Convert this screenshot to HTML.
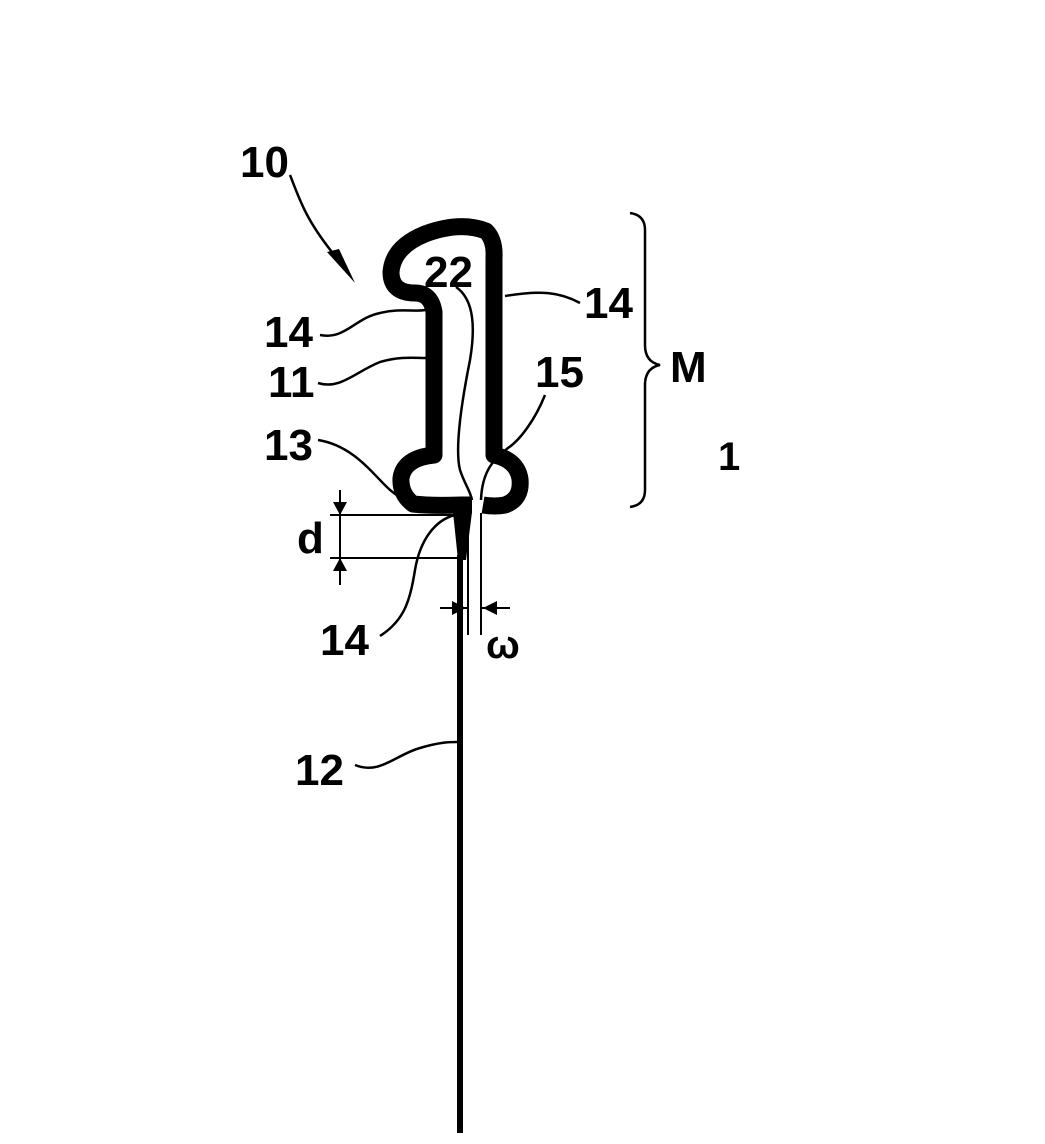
<!DOCTYPE html>
<html><head><style>
body{margin:0;background:#fff}
svg text{font-family:"Liberation Sans",sans-serif;font-weight:bold;fill:#000}
</style></head><body>
<svg width="1045" height="1139" viewBox="0 0 1045 1139" xmlns="http://www.w3.org/2000/svg">
<path d="M472,505 L462,505 Q430,506 413,504 Q400,494 401,478 Q404,458 434,455 L434,312 Q431,293 415,293 Q391,293 391,272 Q393,247 425,234 Q460,221 486,231 Q495,240 494,258 L494,455 Q517,460 520,479 Q522,499 505,505 Q495,507 483,505"
 fill="none" stroke="#000" stroke-width="17" stroke-linejoin="round"/>
<polygon points="453,512 472,512 466,560 458,560" fill="#000"/>
<rect x="457" y="555" width="6" height="578" fill="#000"/>
<line x1="468" y1="513" x2="468" y2="635" stroke="#000" stroke-width="2"/>
<line x1="481" y1="513" x2="481" y2="635" stroke="#000" stroke-width="2"/>
<g fill="none" stroke="#000" stroke-width="2.5">
<path d="M320,335 C345,340 355,318 380,313 C400,308 415,312 425,310"/>
<path d="M318,383 C340,390 355,372 380,362 C400,356 415,358 426,358"/>
<path d="M318,440 C350,445 370,470 380,480 C392,493 400,500 420,503"/>
<path d="M456,287 C475,300 475,330 470,360 C460,410 455,450 460,470 C465,485 470,490 472,500"/>
<path d="M580,303 C560,292 540,290 505,296"/>
<path d="M545,395 C535,420 520,440 508,448 C495,458 482,470 481,500"/>
<path d="M380,636 C405,620 410,600 415,570 C420,540 435,520 455,515"/>
<path d="M355,765 C380,775 395,755 420,748 C440,742 450,742 457,742"/>
<path d="M290,175 C300,200 305,220 340,262"/>
</g>
<polygon points="327,252 355,283 339,249" fill="#000"/>
<g stroke="#000" stroke-width="2">
<line x1="330" y1="515" x2="455" y2="515"/>
<line x1="330" y1="558" x2="460" y2="558"/>
<line x1="340" y1="490" x2="340" y2="585"/>
<line x1="440" y1="608" x2="468" y2="608"/>
<line x1="481" y1="608" x2="510" y2="608"/>
</g>
<polygon points="333,502 347,502 340,515" fill="#000"/>
<polygon points="333,571 347,571 340,558" fill="#000"/>
<polygon points="452,601 452,615 466,608" fill="#000"/>
<polygon points="497,601 497,615 483,608" fill="#000"/>
<path d="M630,213 Q645,215 645,230 L645,345 Q645,362 660,365 Q645,368 645,385 L645,490 Q645,505 630,507" fill="none" stroke="#000" stroke-width="2.5"/>
<text x="240" y="177" font-size="44">10</text>
<text x="424" y="287" font-size="44">22</text>
<text x="264" y="347" font-size="44">14</text>
<text x="268" y="397" font-size="44">11</text>
<text x="264" y="460" font-size="44">13</text>
<text x="584" y="318" font-size="44">14</text>
<text x="535" y="387" font-size="44">15</text>
<text x="670" y="382" font-size="44" font-weight="normal">M</text>
<text x="718" y="470" font-size="40" font-weight="normal">1</text>
<text x="297" y="553" font-size="44">d</text>
<text x="320" y="655" font-size="44">14</text>
<text x="486" y="658" font-size="40" font-weight="normal" font-family="Liberation Serif">ω</text>
<text x="295" y="785" font-size="44">12</text>
</svg>
</body></html>
